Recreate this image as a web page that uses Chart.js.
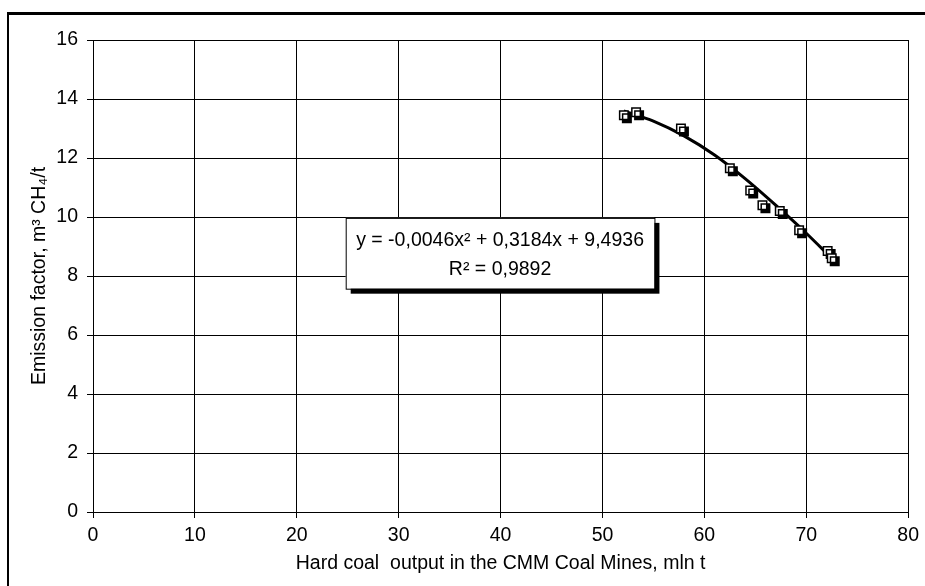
<!DOCTYPE html>
<html>
<head>
<meta charset="utf-8">
<script src="https://cdn.jsdelivr.net/npm/chart.js@4/dist/chart.umd.min.js"></script>
<style>
  html, body { margin: 0; padding: 0; background: #fff; }
  #wrap { position: relative; width: 925px; height: 586px; overflow: hidden; }
  #frame { position: absolute; left: 7px; top: 12px; width: 1000px; height: 1000px;
           border-left: 2px solid #000; border-top: 3px solid #000; }
  canvas { position: absolute; left: 0; top: 0; }
</style>
</head>
<body>
<div id="wrap">
  <div id="frame"></div>
  <canvas id="chart" width="925" height="586"></canvas>
</div>
<script>
// measured points (output, emission factor)
const outputMt = [52.1, 53.3, 57.7, 62.5, 64.5, 65.7, 67.4, 69.3, 72.1, 72.5];
const emission = [13.45, 13.55, 13.0, 11.65, 10.9, 10.4, 10.2, 9.55, 8.85, 8.6];

// polynomial trendline
const trendX = [52.1, 55, 58, 61, 64, 67, 70, 72.5];
const trendY = [13.6, 13.25, 12.75, 12.1, 11.3, 10.4, 9.45, 8.6];

const eqLines = ["y = -0,0046x² + 0,3184x + 9,4936", "R² = 0,9892"];
// label box corners in data units
const eqBox = { x0: 24.8, x1: 55.1, y0: 9.97, y1: 7.57 };

const FONT = "'Liberation Sans', Arial, sans-serif";
const FS = 19.5;

const shadowPlugin = {
  id: "shadow",
  beforeDatasetDraw(chart, args) {
    if (args.index !== 0) return;
    const ctx = chart.ctx;
    ctx.save();
    ctx.shadowColor = "#000";
    ctx.shadowOffsetX = 3;
    ctx.shadowOffsetY = 3;
    ctx.shadowBlur = 0;
  },
  afterDatasetDraw(chart, args) {
    if (args.index !== 0) return;
    chart.ctx.restore();
  },
};

const eqPlugin = {
  id: "eqBox",
  afterDatasetsDraw(chart) {
    const { ctx, scales } = chart;
    const l = scales.x.getPixelForValue(eqBox.x0);
    const r = scales.x.getPixelForValue(eqBox.x1);
    const t = scales.y.getPixelForValue(eqBox.y0);
    const b = scales.y.getPixelForValue(eqBox.y1);
    ctx.save();
    ctx.fillStyle = "#000";
    ctx.fillRect(l + 5, t + 5, r - l, b - t);
    ctx.fillStyle = "#fff";
    ctx.fillRect(l, t, r - l, b - t);
    ctx.strokeStyle = "#000";
    ctx.lineWidth = 1;
    ctx.strokeRect(l + 0.5, t + 0.5, r - l, b - t);
    ctx.fillStyle = "#000";
    ctx.font = FS + "px " + FONT;
    ctx.textAlign = "center";
    ctx.textBaseline = "middle";
    const cx = (l + r) / 2;
    ctx.fillText(eqLines[0], cx, t + 23);
    ctx.fillText(eqLines[1], cx, t + 52);
    ctx.restore();
  },
};

new Chart(document.getElementById("chart"), {
  type: "scatter",
  data: {
    datasets: [
      {
        label: "points",
        data: outputMt.map((x, i) => ({ x, y: emission[i] })),
        pointStyle: "rect",
        pointRadius: 6,
        pointBackgroundColor: "#fff",
        pointBorderColor: "#000",
        pointBorderWidth: 1.5,
        order: 0,
      },
      {
        label: "trend",
        type: "line",
        data: trendX.map((x, i) => ({ x, y: trendY[i] })),
        borderColor: "#000",
        borderWidth: 3,
        pointRadius: 0,
        cubicInterpolationMode: "monotone",
        order: 1,
      },
    ],
  },
  options: {
    responsive: false,
    animation: false,
    layout: { padding: { left: 0, right: 12, top: 40, bottom: 0 } },
    plugins: { legend: { display: false }, tooltip: { enabled: false } },
    scales: {
      x: {
        type: "linear",
        min: 0,
        max: 80,
        ticks: { stepSize: 10, color: "#000", font: { family: FONT, size: FS }, padding: 6 },
        grid: { color: "#000", lineWidth: 1, tickLength: 6 },
        border: { color: "#000", width: 1 },
        title: {
          display: true,
          text: "Hard coal  output in the CMM Coal Mines, mln t",
          color: "#000",
          font: { family: FONT, size: FS },
          padding: { top: 0, bottom: 11 },
        },
        afterFit: (s) => { s.height = 74; },
      },
      y: {
        min: 0,
        max: 16,
        ticks: { stepSize: 2, color: "#000", font: { family: FONT, size: FS }, padding: 9 },
        grid: { color: "#000", lineWidth: 1, tickLength: 6 },
        border: { color: "#000", width: 1 },
        title: {
          display: true,
          text: "Emission factor, m³ CH₄/t",
          color: "#000",
          font: { family: FONT, size: FS },
          padding: { top: 28, bottom: 0 },
        },
        afterFit: (s) => { s.width = 93; },
      },
    },
  },
  plugins: [shadowPlugin, eqPlugin],
});
</script>
</body>
</html>
